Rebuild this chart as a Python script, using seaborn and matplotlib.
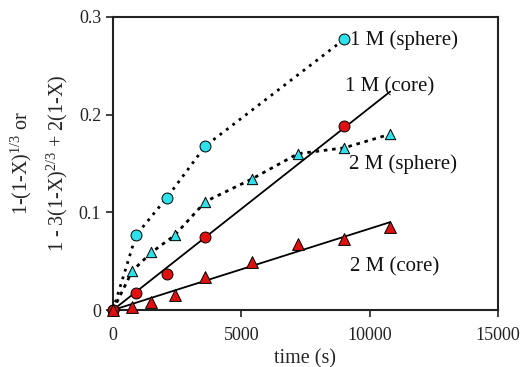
import matplotlib
matplotlib.use("Agg")
import matplotlib.pyplot as plt
import seaborn as sns
import numpy as np
import pandas as pd

# ---- data ----
t_1m = [0, 900, 2100, 3600, 9000]
sphere_1m = [0, 0.0767, 0.115, 0.168, 0.277]
core_1m = [0, 0.017, 0.0365, 0.075, 0.188]

t_2m = [0, 750, 1500, 2400, 3600, 5400, 7200, 9000, 10800]
sphere_2m = [0, 0.040, 0.059, 0.0764, 0.111, 0.134, 0.160, 0.166, 0.180]
core_2m = [0, 0.0034, 0.0085, 0.0153, 0.0334, 0.0488, 0.068, 0.073, 0.085]

fit_range = [0, 10800]

labels = ["1 M (sphere)", "1 M (core)", "2 M (sphere)", "2 M (core)"]
label_x = [9250, 9050, 9200, 9250]
label_y = [0.276, 0.228, 0.149, 0.044]

x_ticks = [0, 5000, 10000, 15000]
y_ticks = [0, 0.1, 0.2, 0.3]
y_tick_labels = ["0", "0.1", "0.2", "0.3"]

# ---- style ----
sns.set_theme(style="ticks")
plt.rcParams["font.family"] = ["Liberation Serif", "DejaVu Serif"]
plt.rcParams["mathtext.fontset"] = "custom"
plt.rcParams["mathtext.rm"] = "Liberation Serif"
plt.rcParams["mathtext.it"] = "Liberation Serif:italic"

CYAN = "#2ee0ea"
RED = "#e01010"

fig = plt.figure(figsize=(5.2, 3.67), dpi=100)
ax = fig.add_axes([0.2173, 0.1553, 0.7404, 0.7984])


def fit_line(t, y):
    t = np.asarray(t, float)
    y = np.asarray(y, float)
    slope = (t * y).sum() / (t * t).sum()
    xs = np.asarray(fit_range, float)
    return xs, slope * xs


# dotted sphere curves
sns.lineplot(x=t_1m, y=sphere_1m, ax=ax, color="black", lw=2.0,
             linestyle=(0, (1.0, 1.9)), sort=False, zorder=2)
sns.lineplot(x=t_2m, y=sphere_2m, ax=ax, color="black", lw=2.0,
             linestyle=(0, (1.3, 1.7)), sort=False, zorder=2)

# linear fits (core model)
xs, ys = fit_line(t_1m, core_1m)
sns.lineplot(x=xs, y=ys, ax=ax, color="black", lw=1.3, zorder=2)
xs, ys = fit_line(t_2m, core_2m)
sns.lineplot(x=xs, y=ys, ax=ax, color="black", lw=1.3, zorder=2)

# markers
common = dict(ax=ax, edgecolor="black", linewidth=0.7, zorder=3, clip_on=False, legend=False)
sns.scatterplot(x=t_1m, y=sphere_1m, marker="o", s=62, color=CYAN, **common)
sns.scatterplot(x=t_1m, y=core_1m, marker="o", s=62, color=RED, **common)
sns.scatterplot(x=t_2m, y=sphere_2m, marker="^", s=55, color=CYAN, **common)
sns.scatterplot(x=t_2m, y=core_2m, marker="^", s=72, color=RED, **common)

for lab, lx, ly in zip(labels, label_x, label_y):
    ax.text(lx, ly, lab, fontsize=15, va="center", ha="left", color="#111111")

ax.set_xlim(0, 15000)
ax.set_ylim(0, 0.3)
ax.set_xticks(x_ticks)
ax.set_xticklabels([str(v) for v in x_ticks])
ax.set_yticks(y_ticks)
ax.set_yticklabels(y_tick_labels)
ax.tick_params(axis="both", direction="out", length=5, width=1.2, labelsize=13,
               colors="#222222", top=False, right=False)
ax.tick_params(axis="x", pad=7)
for s in ax.spines.values():
    s.set_visible(True)
    s.set_linewidth(1.5)
    s.set_color("#222222")

ax.set_xlabel("time (s)", fontsize=14.5, labelpad=4)
ax.set_ylabel("1-(1-X)$^{1/3}$ or\n1 - 3(1-X)$^{2/3}$ + 2(1-X)", fontsize=14.5,
              labelpad=6, linespacing=1.6)

fig.savefig("out.png", dpi=100)
